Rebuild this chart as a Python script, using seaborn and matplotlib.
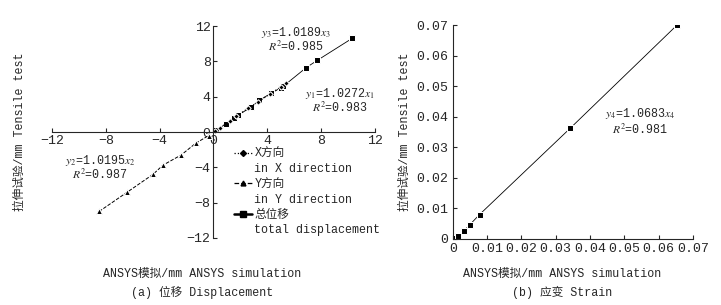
import numpy as np
import pandas as pd
import matplotlib
matplotlib.use("Agg")
import matplotlib.pyplot as plt
import seaborn as sns
from matplotlib.lines import Line2D

# ---------------------------------------------------------------------
# Data
# ---------------------------------------------------------------------
# (a) displacement, mm
x_dir_sim = [0.1, 0.5, 1.2, 1.7, 2.6, 3.3, 4.2, 5.0, 5.4]
x_dir_test = [0.1, 0.5, 1.2, 1.8, 2.7, 3.4, 4.3, 5.1, 5.5]
y_dir_sim = [-0.35, -1.3, -2.4, -3.75, -4.5, -6.4, -8.5]
y_dir_test = [-0.4, -1.25, -2.6, -3.75, -4.8, -6.8, -9.0]
tot_sim = [0.2, 0.9, 1.5, 1.8, 2.8, 3.4, 4.3, 5.0, 5.2, 6.9, 7.7, 10.3]
tot_test = [0.2, 0.9, 1.6, 1.9, 2.8, 3.6, 4.4, 5.0, 5.2, 7.3, 8.1, 10.6]

# (b) strain
strain_sim = [0.0006, 0.0015, 0.0032, 0.0049, 0.0078, 0.0343, 0.0654]
strain_test = [0.0003, 0.0010, 0.0026, 0.0046, 0.0080, 0.0363, 0.0700]

disp_ticks = [-12, -8, -4, 0, 4, 8, 12]
strain_ticks = [0, 0.01, 0.02, 0.03, 0.04, 0.05, 0.06, 0.07]

sns.set_style("ticks")
plt.rcParams["font.family"] = ["Liberation Mono", "Noto Sans CJK SC", "DejaVu Sans"]
plt.rcParams["mathtext.fontset"] = "stix"
FS = 8.4      # labels, legend, notes
TFS = 9.5     # tick labels

fig = plt.figure(figsize=(7.21, 3.05), dpi=100)
ax1 = fig.add_axes([0.0721, 0.2197, 0.448, 0.695])
ax2 = fig.add_axes([0.628, 0.2164, 0.333, 0.7016])

# ---------------------------------------------------------------------
# (a) displacement
# ---------------------------------------------------------------------
df_x = pd.DataFrame({"sim": x_dir_sim, "test": x_dir_test})
df_y = pd.DataFrame({"sim": y_dir_sim, "test": y_dir_test})
df_t = pd.DataFrame({"sim": tot_sim, "test": tot_test})

sns.lineplot(data=df_t, x="sim", y="test", ax=ax1, color="black", lw=0.6,
             marker="s", markersize=3.8, sort=True, estimator=None)
sns.lineplot(data=df_x, x="sim", y="test", ax=ax1, color="black", lw=0.9,
             linestyle=":", marker="D", markersize=2.8, sort=True, estimator=None)
sns.lineplot(data=df_y, x="sim", y="test", ax=ax1, color="black", lw=0.7,
             linestyle="--", marker="^", markersize=4, sort=True, estimator=None)

ax1.set_xlim(-12, 12)
ax1.set_ylim(-12, 12)
ax1.set_xticks(disp_ticks)
ax1.set_yticks(disp_ticks)
ax1.spines["left"].set_position("zero")
ax1.spines["bottom"].set_position("zero")
ax1.spines["top"].set_visible(False)
ax1.spines["right"].set_visible(False)
ax1.tick_params(direction="in", length=3, labelsize=TFS, width=0.8, pad=2)
ax1.set_xlabel("")
ax1.set_ylabel("")

ax1.text(6.1, 11.3, "$\\mathbf{\\mathit{y}}_3$=1.0189$\\mathbf{\\mathit{x}}_3$", fontsize=FS, ha="center", va="center")
ax1.text(6.1, 9.6, "$R^2$=0.985", fontsize=FS, ha="center", va="center")
ax1.text(9.4, 4.4, "$\\mathbf{\\mathit{y}}_1$=1.0272$\\mathbf{\\mathit{x}}_1$", fontsize=FS, ha="center", va="center")
ax1.text(9.4, 2.7, "$R^2$=0.983", fontsize=FS, ha="center", va="center")
ax1.text(-8.4, -3.2, "$\\mathbf{\\mathit{y}}_2$=1.0195$\\mathbf{\\mathit{x}}_2$", fontsize=FS, ha="center", va="center")
ax1.text(-8.4, -4.9, "$R^2$=0.987", fontsize=FS, ha="center", va="center")

# legend: marker sits on the Chinese line, English line below it
blank = Line2D([], [], color="none")
handles = [
    Line2D([], [], color="black", lw=0.9, linestyle=":", marker="D", markersize=3), blank,
    Line2D([], [], color="black", lw=0.9, linestyle="--", marker="^", markersize=3.5), blank,
    Line2D([], [], color="black", lw=1.8, marker="s", markersize=4), blank,
]
labels = ["X方向", "in X direction", "Y方向", "in Y direction",
          "总位移", "total displacement"]
fig.legend(handles, labels, loc="upper left", bbox_to_anchor=(234 / 721, 1 - 148 / 305),
           frameon=False, fontsize=FS, handlelength=1.5, handletextpad=0.25,
           labelspacing=0.28, borderaxespad=0, borderpad=0)

# ---------------------------------------------------------------------
# (b) strain
# ---------------------------------------------------------------------
df_s = pd.DataFrame({"sim": strain_sim, "test": strain_test})
sns.lineplot(data=df_s, x="sim", y="test", ax=ax2, color="black", lw=0.6,
             marker="s", markersize=3.8, sort=True, estimator=None)
ax2.set_xlim(0, 0.07)
ax2.set_ylim(0, 0.07)
ax2.set_xticks(strain_ticks)
ax2.set_yticks(strain_ticks)
ax2.set_xticklabels(["0"] + [f"{t:.2f}" for t in strain_ticks[1:]])
ax2.set_yticklabels(["0"] + [f"{t:.2f}" for t in strain_ticks[1:]])
ax2.spines["top"].set_visible(False)
ax2.spines["right"].set_visible(False)
ax2.tick_params(direction="in", length=3, labelsize=TFS, width=0.8, pad=3)
ax2.set_xlabel("")
ax2.set_ylabel("")
ax2.text(0.0546, 0.0410, "$\\mathbf{\\mathit{y}}_4$=1.0683$\\mathbf{\\mathit{x}}_4$", fontsize=FS, ha="center", va="center")
ax2.text(0.0546, 0.0358, "$R^2$=0.981", fontsize=FS, ha="center", va="center")

# ---------------------------------------------------------------------
# Axis titles and captions
# ---------------------------------------------------------------------
fig.text(20 / 721, 1 - 132 / 305, "拉伸试验/mm Tensile test", rotation=90,
         ha="center", va="center", fontsize=FS)
fig.text(405 / 721, 1 - 132 / 305, "拉伸试验/mm Tensile test", rotation=90,
         ha="center", va="center", fontsize=FS)
fig.text(202 / 721, 1 - 274 / 305, "ANSYS模拟/mm ANSYS simulation",
         ha="center", va="center", fontsize=FS)
fig.text(202 / 721, 1 - 292 / 305, "(a) 位移 Displacement",
         ha="center", va="center", fontsize=FS)
fig.text(562 / 721, 1 - 274 / 305, "ANSYS模拟/mm ANSYS simulation",
         ha="center", va="center", fontsize=FS)
fig.text(562 / 721, 1 - 292 / 305, "(b) 应变 Strain",
         ha="center", va="center", fontsize=FS)

fig.savefig("out.png", dpi=100)
